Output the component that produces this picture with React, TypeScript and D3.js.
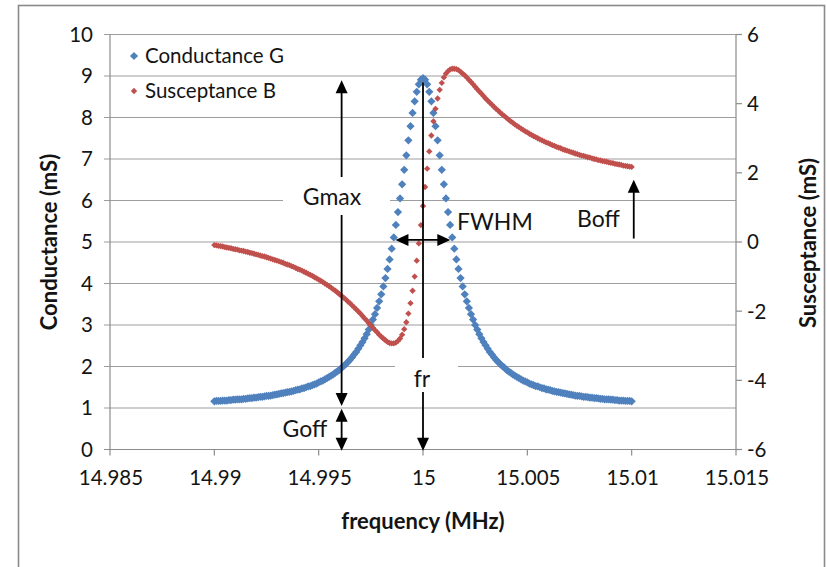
import { useEffect, useRef } from 'react';
import * as d3 from 'd3';

// sweep: 201 readings, 14.99 MHz .. 15.01 MHz, 0.1 kHz apart
const freqStart = 14.99;
const freqStep = 0.0001;

// Conductance G (mS)
const conductance = [
  1.16, 1.17, 1.17, 1.17, 1.18, 1.18, 1.18, 1.19, 1.19, 1.20,
  1.20, 1.21, 1.21, 1.21, 1.22, 1.22, 1.23, 1.24, 1.24, 1.25,
  1.25, 1.26, 1.27, 1.27, 1.28, 1.29, 1.29, 1.30, 1.31, 1.32,
  1.33, 1.34, 1.35, 1.36, 1.37, 1.38, 1.39, 1.40, 1.41, 1.43,
  1.44, 1.45, 1.47, 1.48, 1.50, 1.52, 1.53, 1.55, 1.57, 1.59,
  1.62, 1.64, 1.66, 1.69, 1.72, 1.75, 1.78, 1.81, 1.85, 1.88,
  1.92, 1.97, 2.01, 2.06, 2.11, 2.16, 2.22, 2.29, 2.35, 2.43,
  2.51, 2.59, 2.68, 2.78, 2.89, 3.00, 3.13, 3.26, 3.41, 3.57,
  3.74, 3.93, 4.13, 4.35, 4.58, 4.84, 5.11, 5.41, 5.72, 6.05,
  6.39, 6.74, 7.09, 7.45, 7.79, 8.11, 8.39, 8.62, 8.80, 8.91,
  8.95,
  8.91, 8.80, 8.62, 8.39, 8.11, 7.79, 7.45, 7.09, 6.74, 6.39,
  6.05, 5.72, 5.41, 5.11, 4.84, 4.58, 4.35, 4.13, 3.93, 3.74,
  3.57, 3.41, 3.26, 3.13, 3.00, 2.89, 2.78, 2.68, 2.59, 2.51,
  2.43, 2.35, 2.29, 2.22, 2.16, 2.11, 2.06, 2.01, 1.97, 1.92,
  1.88, 1.85, 1.81, 1.78, 1.75, 1.72, 1.69, 1.66, 1.64, 1.62,
  1.59, 1.57, 1.55, 1.53, 1.52, 1.50, 1.48, 1.47, 1.45, 1.44,
  1.43, 1.41, 1.40, 1.39, 1.38, 1.37, 1.36, 1.35, 1.34, 1.33,
  1.32, 1.31, 1.30, 1.29, 1.29, 1.28, 1.27, 1.27, 1.26, 1.25,
  1.25, 1.24, 1.24, 1.23, 1.22, 1.22, 1.21, 1.21, 1.21, 1.20,
  1.20, 1.19, 1.19, 1.18, 1.18, 1.18, 1.17, 1.17, 1.17, 1.16,
];

// Susceptance B (mS)
const susceptance = [
  -0.09, -0.10, -0.11, -0.12, -0.13, -0.15, -0.16, -0.17, -0.18, -0.20,
  -0.21, -0.22, -0.24, -0.25, -0.26, -0.28, -0.29, -0.31, -0.32, -0.34,
  -0.36, -0.37, -0.39, -0.41, -0.42, -0.44, -0.46, -0.48, -0.50, -0.52,
  -0.54, -0.56, -0.58, -0.60, -0.63, -0.65, -0.67, -0.70, -0.72, -0.75,
  -0.78, -0.80, -0.83, -0.86, -0.89, -0.92, -0.95, -0.98, -1.02, -1.05,
  -1.09, -1.12, -1.16, -1.20, -1.24, -1.28, -1.32, -1.37, -1.41, -1.46,
  -1.51, -1.56, -1.61, -1.66, -1.72, -1.77, -1.83, -1.89, -1.95, -2.01,
  -2.07, -2.14, -2.21, -2.27, -2.34, -2.41, -2.48, -2.55, -2.61, -2.68,
  -2.74, -2.79, -2.84, -2.89, -2.92, -2.93, -2.93, -2.91, -2.86, -2.79,
  -2.68, -2.52, -2.32, -2.07, -1.77, -1.41, -1.00, -0.54, -0.04, 0.49,
  1.04,
  1.59, 2.12, 2.62, 3.08, 3.49, 3.85, 4.15, 4.40, 4.60, 4.76,
  4.87, 4.94, 4.99, 5.01, 5.01, 5.00, 4.97, 4.92, 4.87, 4.82,
  4.76, 4.69, 4.63, 4.56, 4.49, 4.42, 4.35, 4.29, 4.22, 4.15,
  4.09, 4.03, 3.97, 3.91, 3.85, 3.80, 3.74, 3.69, 3.64, 3.59,
  3.54, 3.49, 3.45, 3.40, 3.36, 3.32, 3.28, 3.24, 3.20, 3.17,
  3.13, 3.10, 3.06, 3.03, 3.00, 2.97, 2.94, 2.91, 2.88, 2.86,
  2.83, 2.80, 2.78, 2.75, 2.73, 2.71, 2.68, 2.66, 2.64, 2.62,
  2.60, 2.58, 2.56, 2.54, 2.52, 2.50, 2.49, 2.47, 2.45, 2.44,
  2.42, 2.40, 2.39, 2.37, 2.36, 2.34, 2.33, 2.32, 2.30, 2.29,
  2.28, 2.26, 2.25, 2.24, 2.23, 2.21, 2.20, 2.19, 2.18, 2.17,
];

const xTicks = [14.985, 14.99, 14.995, 15, 15.005, 15.01, 15.015];
const gTicks = [0, 1, 2, 3, 4, 5, 6, 7, 8, 9, 10];
const bTicks = [-6, -4, -2, 0, 2, 4, 6];
const seriesNames = ['Conductance G', 'Susceptance B'];
const seriesColors = ['#4f81bd', '#c0504d'];

const FONT = "Lato, 'Open Sans', sans-serif";
const INK = '#141414';

export default function App() {
  const ref = useRef<SVGSVGElement>(null);

  useEffect(() => {
    const svg = d3.select(ref.current);
    svg.selectAll('*').remove();

    const left = 110, right = 736, top = 34.5, bottom = 449.5;
    const x = d3.scaleLinear().domain([14.985, 15.015]).range([left, right]);
    const yG = d3.scaleLinear().domain([0, 10]).range([bottom, top]);
    const yB = d3.scaleLinear().domain([-6, 6]).range([bottom, top]);

    svg.append('rect').attr('width', 827).attr('height', 567).attr('fill', '#fff');
    // chart frame, bottom edge falls below the picture
    svg.append('rect')
      .attr('x', 18.5).attr('y', 5.5).attr('width', 806).attr('height', 580)
      .attr('fill', 'none').attr('stroke', '#8a8a8a').attr('stroke-width', 1.6);

    // gridlines + left ticks
    svg.append('g').selectAll('line').data(gTicks.filter(t => t > 0)).join('line')
      .attr('x1', left - 6).attr('x2', right)
      .attr('y1', d => yG(d)).attr('y2', d => yG(d))
      .attr('stroke', '#9e9e9e').attr('stroke-width', 1.2);

    const axes = svg.append('g').attr('stroke', '#8c8c8c').attr('stroke-width', 1.2);
    axes.append('line').attr('x1', left - 6).attr('x2', right).attr('y1', bottom).attr('y2', bottom);
    axes.append('line').attr('x1', left).attr('x2', left).attr('y1', top).attr('y2', bottom);
    axes.append('line').attr('x1', right).attr('x2', right).attr('y1', top).attr('y2', bottom);
    axes.selectAll('.bt').data(bTicks).join('line').attr('class', 'bt')
      .attr('x1', right).attr('x2', right + 6).attr('y1', d => yB(d)).attr('y2', d => yB(d));
    axes.selectAll('.xt').data(xTicks).join('line').attr('class', 'xt')
      .attr('x1', d => x(d)).attr('x2', d => x(d)).attr('y1', bottom).attr('y2', bottom + 6);

    const labels = svg.append('g').attr('font-family', FONT).attr('font-size', 20.5).attr('fill', INK);
    labels.selectAll('.gl').data(gTicks).join('text').attr('class', 'gl')
      .attr('x', 93).attr('y', d => yG(d)).attr('dy', '0.36em').attr('text-anchor', 'end').text(d => String(d));
    labels.selectAll('.bl').data(bTicks).join('text').attr('class', 'bl')
      .attr('x', 747).attr('y', d => yB(d)).attr('dy', '0.36em').attr('text-anchor', 'start').text(d => String(d));
    labels.selectAll('.xl').data(xTicks).join('text').attr('class', 'xl')
      .attr('x', d => x(d) + 1).attr('y', 478).attr('dy', '0.36em').attr('text-anchor', 'middle').text(d => String(d));

    // axis titles
    const titles = svg.append('g').attr('font-family', FONT).attr('font-size', 22).attr('font-weight', 700).attr('fill', INK);
    titles.append('text').attr('transform', 'translate(49,242) rotate(-90)').attr('text-anchor', 'middle')
      .attr('dy', '0.35em').text('Conductance (mS)');
    titles.append('text').attr('transform', 'translate(808,243) rotate(-90)').attr('text-anchor', 'middle')
      .attr('dy', '0.35em').text('Susceptance (mS)');
    titles.append('text').attr('x', 423).attr('y', 521).attr('text-anchor', 'middle')
      .attr('dy', '0.35em').text('frequency (MHz)');

    // series: G first, B on top
    const pts = conductance.map((g, i) => ({ f: freqStart + i * freqStep, g, b: susceptance[i] }));
    const blueSym = d3.symbol().type(d3.symbolSquare).size(34)();
    const redSym = d3.symbol().type(d3.symbolSquare).size(20)();
    svg.append('g').selectAll('path').data(pts).join('path')
      .attr('d', blueSym).attr('fill', seriesColors[0])
      .attr('transform', d => `translate(${x(d.f)},${yG(d.g)}) rotate(45)`);
    svg.append('g').selectAll('path').data(pts).join('path')
      .attr('d', redSym).attr('fill', seriesColors[1])
      .attr('transform', d => `translate(${x(d.f)},${yB(d.b)}) rotate(45)`);

    // legend
    const legend = svg.append('g').attr('font-family', FONT).attr('font-size', 20.5).attr('fill', INK);
    seriesNames.forEach((name, i) => {
      const ly = 56 + i * 35;
      legend.append('path').attr('d', i === 0 ? blueSym : redSym).attr('fill', seriesColors[i])
        .attr('transform', `translate(134,${ly}) rotate(45)`);
      legend.append('text').attr('x', 145).attr('y', ly).attr('dy', '0.36em').text(name);
    });

    // annotations
    const ann = svg.append('g');
    const head = (tx: number, ty: number, dx: number, dy: number) => {
      const len = 13, half = 6;
      const bx = tx - dx * len, by = ty - dy * len;
      const px = -dy, py = dx;
      ann.append('path')
        .attr('d', `M${tx},${ty}L${bx + px * half},${by + py * half}L${bx - px * half},${by - py * half}Z`)
        .attr('fill', '#000');
    };
    const line = (x1: number, y1: number, x2: number, y2: number) =>
      ann.append('line').attr('x1', x1).attr('y1', y1).attr('x2', x2).attr('y2', y2)
        .attr('stroke', '#000').attr('stroke-width', 1.8);

    // Gmax
    const xg = x(14.9961);
    line(xg, yG(8.9) + 4, xg, yG(1.05) - 4);
    head(xg, yG(8.9), 0, -1);
    head(xg, yG(1.05), 0, 1);
    // Goff
    line(xg, yG(0.98) + 4, xg, yG(-0.03) - 4);
    head(xg, yG(0.98), 0, -1);
    head(xg, yG(-0.03), 0, 1);
    // fr
    const xf = x(15);
    line(xf, yG(8.85), xf, yG(-0.03) - 4);
    head(xf, yG(-0.03), 0, 1);
    // FWHM
    const yw = yG(5.05);
    line(x(14.99868) + 4, yw, x(15.00131) - 4, yw);
    head(x(14.99868), yw, -1, 0);
    head(x(15.00131), yw, 1, 0);
    // Boff
    const xb = x(15.0101);
    line(xb, yB(0.1), xb, yB(1.8) + 4);
    head(xb, yB(1.8), 0, -1);

    // label boxes hide lines and grid
    ann.append('rect').attr('x', 283).attr('y', 177).attr('width', 107).attr('height', 38).attr('fill', '#fff');
    ann.append('rect').attr('x', 395).attr('y', 358).attr('width', 63).attr('height', 34).attr('fill', '#fff');

    const annText = svg.append('g').attr('font-family', FONT).attr('font-size', 23).attr('fill', INK);
    annText.append('text').attr('x', 332).attr('y', 197).attr('dy', '0.36em').attr('text-anchor', 'middle').text('Gmax');
    annText.append('text').attr('x', 305).attr('y', 429).attr('dy', '0.36em').attr('text-anchor', 'middle').text('Goff');
    annText.append('text').attr('x', 422).attr('y', 379).attr('dy', '0.36em').attr('text-anchor', 'middle').text('fr');
    annText.append('text').attr('x', 457).attr('y', 222).attr('dy', '0.36em').text('FWHM');
    annText.append('text').attr('x', 577).attr('y', 219).attr('dy', '0.36em').text('Boff');
  }, []);

  return (
    <svg
      ref={ref}
      width={827}
      height={567}
      style={{ position: 'absolute', left: 0, top: 0, display: 'block' }}
    />
  );
}
